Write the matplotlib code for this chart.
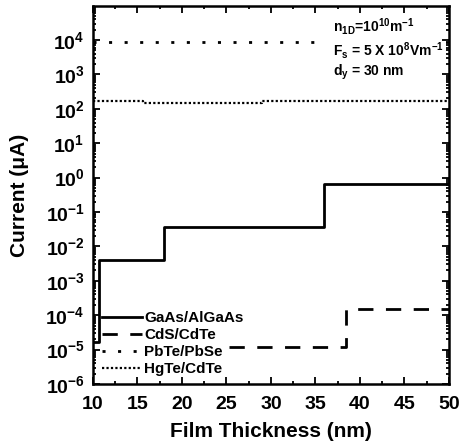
import matplotlib
matplotlib.use("Agg")
import matplotlib.pyplot as plt
from matplotlib.ticker import LogLocator, MultipleLocator, NullFormatter

plt.rcParams["font.family"] = ["Liberation Sans", "DejaVu Sans"]
plt.rcParams["font.weight"] = "bold"
plt.rcParams["mathtext.fontset"] = "custom"
plt.rcParams["mathtext.rm"] = "Liberation Sans:bold"
plt.rcParams["mathtext.bf"] = "Liberation Sans:bold"
plt.rcParams["mathtext.it"] = "Liberation Sans:bold"
plt.rcParams["mathtext.default"] = "rm"

# step data (thickness in nm, current in uA)
gaas_x = [10, 10.7, 18, 36, 50]
gaas_y = [1.7e-5, 4.0e-3, 3.7e-2, 0.65, 0.65]

cds_x = [25.3, 38.5, 50]
cds_y = [1.2e-5, 1.5e-4, 1.5e-4]

pbte_x = [10, 34.8]
pbte_y = [8.6e3, 8.6e3]

hgte_x = [10, 15.6, 29, 50]
hgte_y = [170, 150, 165, 165]

labels = ["GaAs/AlGaAs", "CdS/CdTe", "PbTe/PbSe", "HgTe/CdTe"]

fig = plt.figure(figsize=(4.67, 4.47), dpi=100)
ax = fig.add_axes([0.199, 0.141, 0.762, 0.846])

ax.plot(gaas_x, gaas_y, drawstyle="steps-post", color="black", lw=2, label=labels[0])
ax.plot(cds_x, cds_y, drawstyle="steps-post", color="black", lw=2,
        linestyle=(0, (5.5, 4.5)), label=labels[1])
ax.plot(pbte_x, pbte_y, drawstyle="steps-post", color="black", lw=2,
        linestyle=(0, (1.1, 4.5)), label=labels[2])
ax.plot(hgte_x, hgte_y, drawstyle="steps-post", color="black", lw=1.6,
        linestyle=(0, (1, 1)), label=labels[3])

ax.set_yscale("log")
ax.set_xlim(10, 50)
ax.set_ylim(1e-6, 9.9e4)
ax.xaxis.set_major_locator(MultipleLocator(5))
ax.xaxis.set_minor_locator(MultipleLocator(2.5))
ax.yaxis.set_major_locator(LogLocator(base=10, numticks=20))
ax.yaxis.set_minor_locator(LogLocator(base=10, subs=range(2, 10), numticks=20))
ax.yaxis.set_minor_formatter(NullFormatter())

ax.tick_params(which="both", direction="in", top=True, right=True, width=1.3)
ax.tick_params(which="major", length=5, labelsize=14)
ax.tick_params(axis="x", which="major", pad=9)
ax.tick_params(axis="y", which="major", pad=6)
ax.tick_params(which="minor", length=2.5)
for s in ax.spines.values():
    s.set_linewidth(1.8)

ax.set_xlabel("Film Thickness (nm)", fontsize=15, fontweight="bold", labelpad=6)
ax.set_ylabel("Current (\u03bcA)", fontsize=15, fontweight="bold", labelpad=12)

ax.text(37, 10**4.4, "n$_{1D}$=10$^{10}$m$^{-1}$", fontsize=10, va="center")
ax.text(37, 10**3.7, "F$_s$ = 5 X 10$^8$Vm$^{-1}$", fontsize=10, va="center")
ax.text(37, 10**3.05, "d$_y$ = 30 nm", fontsize=10, va="center")

leg = ax.legend(loc="lower left", bbox_to_anchor=(0.005, 0.0), frameon=False,
                fontsize=11, handlelength=2.6, handletextpad=0.15,
                labelspacing=0.2, borderpad=0.3, borderaxespad=0.2)

fig.savefig("out.png", dpi=100)
